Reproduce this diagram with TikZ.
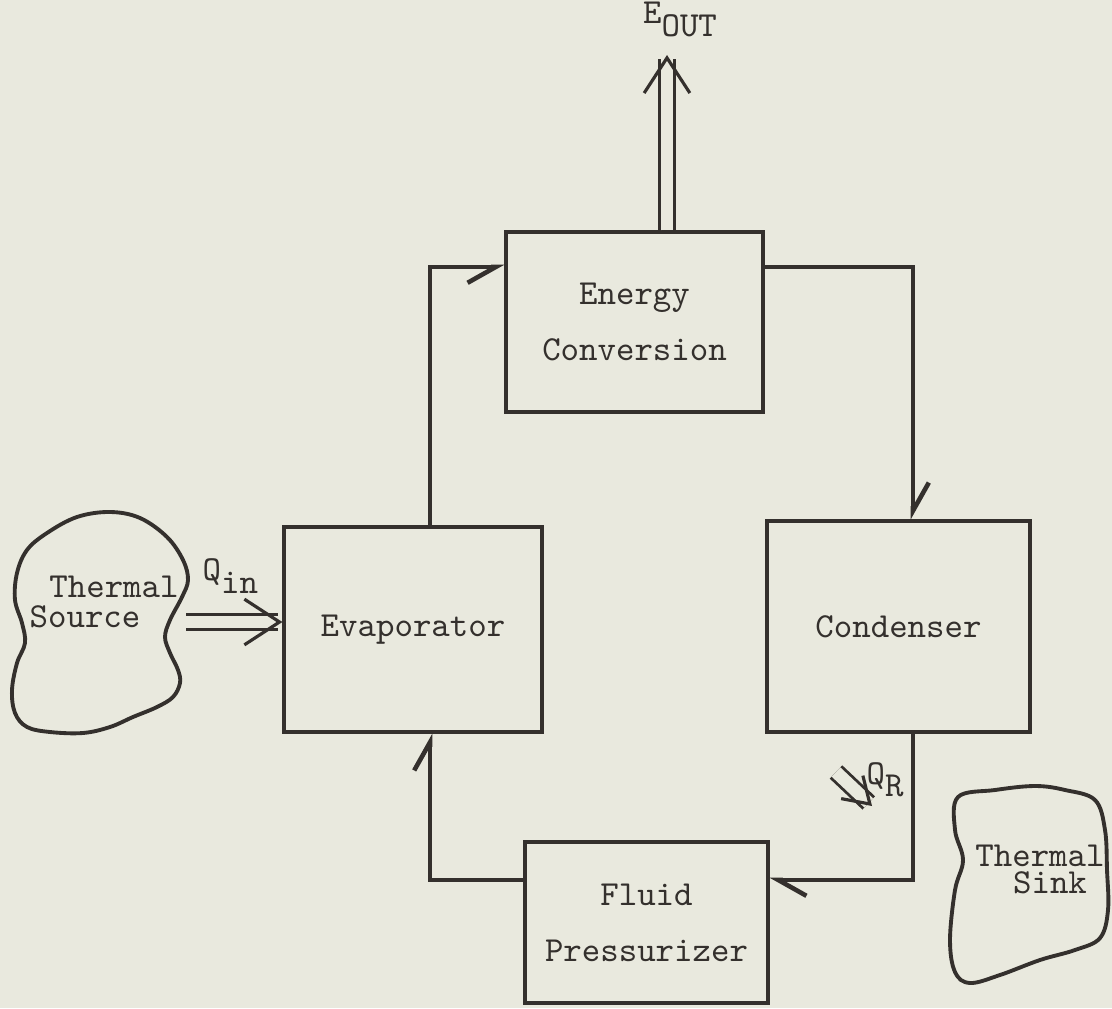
\documentclass[tikz,border=0pt]{standalone}
\usetikzlibrary{arrows.meta, positioning, calc}

\definecolor{paper}{RGB}{233,233,222}
\definecolor{ink}{RGB}{52,48,45}

\tikzset{
  unit/.style={draw=ink, line width=0.9pt, font=\ttfamily, text=ink, align=center, inner sep=0pt},
  lbl/.style={font=\ttfamily, text=ink, inner sep=0pt},
  flow/.style={draw=ink, line width=0.9pt, -{Straight Barb[harpoon, length=8pt, width=9pt, line width=1.3pt]}},
  flowswap/.style={draw=ink, line width=0.9pt, -{Straight Barb[harpoon, swap, length=8pt, width=9pt, line width=1.3pt]}},
  heat/.style={draw=ink, line width=0.8pt, double=paper, double distance=3.6pt, -{Straight Barb[length=10pt, width=13pt, line width=0.9pt]}},
  blob/.style={draw=ink, line width=1.1pt},
}

\begin{document}
\begin{tikzpicture}
\fill[paper] (0,0) rectangle (11.12,-10.08);
\useasboundingbox (0,0) rectangle (11.12,-10.08);

% the four units of the loop
\node[unit, minimum width=2.57cm, minimum height=1.80cm] (energy) at (6.345,-3.22) {Energy\\[4pt]Conversion};
\node[unit, minimum width=2.58cm, minimum height=2.05cm] (evap) at (4.13,-6.295) {Evaporator};
\node[unit, minimum width=2.63cm, minimum height=2.11cm] (cond) at (8.985,-6.265) {Condenser};
\node[unit, minimum width=2.43cm, minimum height=1.61cm] (fluid) at (6.465,-9.225) {Fluid\\[4pt]Pressurizer};

% corners of the loop
\coordinate (lt) at (4.30,-2.67);
\coordinate (rt) at (9.13,-2.67);
\coordinate (lb) at (4.30,-8.80);
\coordinate (rb) at (9.13,-8.80);

\draw[flowswap] (evap.north -| lt) |- (energy.west |- lt);
\draw[flow] (energy.east |- rt) -| (cond.north -| rt);
\draw[flow] (cond.south -| rb) |- (fluid.east |- rb);
\draw[flow] (fluid.west |- lb) -| (evap.south -| lb);

% work out
\coordinate (eouttip) at (6.67,-0.55);
\draw[heat] (energy.north -| eouttip) -- (eouttip);
\node[lbl, anchor=base] (eout) at (6.80,-0.24) {E\raisebox{-0.8ex}{OUT}};

% thermal source
\draw[blob] plot[smooth cycle, tension=0.6] coordinates {
  (1.10,-5.12) (1.40,-5.18) (1.67,-5.37) (1.83,-5.60) (1.88,-5.80) (1.82,-5.97)
  (1.70,-6.20) (1.65,-6.37) (1.70,-6.53) (1.78,-6.70) (1.80,-6.83) (1.73,-6.97)
  (1.57,-7.07) (1.33,-7.17) (1.10,-7.27) (0.83,-7.33) (0.50,-7.32) (0.27,-7.27)
  (0.15,-7.13) (0.12,-6.90) (0.17,-6.63) (0.25,-6.43) (0.22,-6.23) (0.15,-6.00)
  (0.17,-5.73) (0.27,-5.50) (0.47,-5.33) (0.77,-5.17)};
\node[lbl, anchor=base] (src1) at (1.14,-5.97) {Thermal};
\node[lbl, anchor=base] (src2) at (0.85,-6.27) {Source};
\coordinate (qin) at (1.86,-6.22);
\draw[heat] (qin) -- (evap.west |- qin);
\node[lbl, anchor=base west] (qinlbl) at (2.02,-5.80) {Q\raisebox{-0.9ex}{in}};

% thermal sink
\draw[blob] plot[smooth cycle, tension=0.6] coordinates {
  (9.58,-7.97) (9.95,-7.90) (10.35,-7.86) (10.65,-7.90) (10.95,-8.00) (11.05,-8.30)
  (11.07,-8.70) (11.08,-9.10) (11.00,-9.38) (10.75,-9.50) (10.40,-9.60) (10.00,-9.75)
  (9.70,-9.83) (9.55,-9.72) (9.50,-9.40) (9.55,-8.90) (9.63,-8.60) (9.55,-8.30)};
\node[lbl, anchor=base] (snk1) at (10.40,-8.66) {Thermal};
\node[lbl, anchor=base] (snk2) at (10.50,-8.93) {Sink};
\coordinate (qr) at (8.36,-7.72);
\coordinate (qrtip) at (8.72,-8.06);
\draw[heat, -{Straight Barb[length=7pt, width=9pt, line width=0.9pt]}] (qr) -- (qrtip);
\node[lbl, anchor=base west] (qrlbl) at (8.66,-7.84) {Q\raisebox{-0.8ex}{R}};
\end{tikzpicture}
\end{document}
